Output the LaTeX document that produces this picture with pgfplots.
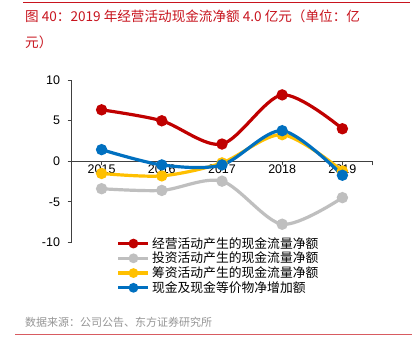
\documentclass[border=0pt]{standalone}
\usepackage{pgfplots}
\pgfplotsset{compat=1.18}
\usepackage{fontspec}
\setmainfont{Liberation Sans}
\newfontfamily\cjk{Noto Sans CJK SC}
\newfontfamily\cjkm{Noto Sans CJK SC Medium}
\definecolor{titlered}{RGB}{200,20,30}
\definecolor{cred}{RGB}{192,0,0}
\definecolor{cgray}{RGB}{191,191,191}
\definecolor{cyellow}{RGB}{255,192,0}
\definecolor{cblue}{RGB}{0,112,192}
\definecolor{srcgray}{RGB}{150,150,150}
\begin{document}
\begin{tikzpicture}
\path[use as bounding box, fill=white] (0,0) rectangle (412bp,-359bp);
\draw[titlered, line width=0.9bp] (23bp,-2.3bp) -- (410bp,-2.3bp);
\node[anchor=west, inner sep=0pt, text=titlered, font=\cjk\fontsize{13.6bp}{16bp}\selectfont] at (25bp,-16bp) {图 40：2019 年经营活动现金流净额 4.0 亿元（单位：亿};
\node[anchor=west, inner sep=0pt, text=titlered, font=\cjk\fontsize{13.6bp}{16bp}\selectfont] at (25bp,-42bp) {元）};
\node[anchor=west, inner sep=0pt, text=srcgray, font=\cjk\fontsize{11bp}{13bp}\selectfont] at (25bp,-322.5bp) {数据来源：公司公告、东方证券研究所};
\draw[titlered!70, line width=0.9bp] (15bp,-334.3bp) -- (412bp,-334.3bp);
\begin{axis}[
  at={(71.5bp,-242.5bp)}, anchor=south west,
  scale only axis, width=301bp, height=162.5bp,
  xmin=-0.5, xmax=4.5, ymin=-10, ymax=10,
  axis x line*=middle, axis y line*=left,
  axis line style={draw=black!75, line width=0.8bp, -},
  every inner x axis line/.append style={-},
  every outer y axis line/.append style={-},
  xtick={0,1,2,3,4}, xticklabels={2015,2016,2017,2018,2019},
  extra x ticks={4.5}, extra x tick labels={},
  ytick={-10,-5,0,5,10}, yticklabels={-10,-5,0,5,10},
  tick align=outside, major tick length=4bp,
  tick style={draw=black!75, line width=0.8bp},
  xticklabel style={font=\fontsize{12.5bp}{14bp}\selectfont, anchor=center, yshift=-4bp},
  yticklabel style={font=\fontsize{12.5bp}{14bp}\selectfont, xshift=-4bp},
  clip=false,
  legend style={at={(axis description cs:0.15,0.045)}, anchor=north west, draw=none, fill=none,
    font=\cjk\fontsize{12.8bp}{14bp}\selectfont, row sep=-1.6bp, inner sep=0pt,
    /tikz/every even column/.append style={column sep=3bp}},
  legend cell align=left,
  legend image code/.code={\draw[mark repeat=2,mark phase=2, mark size=3.2bp] plot coordinates {(0bp,0bp)(15bp,0bp)(30bp,0bp)};},
]
\addplot[cred, line width=3.2bp, smooth, mark=*, mark size=4bp, mark options={solid, fill=cred}] coordinates {(0,6.33) (1,4.98) (2,2.12) (3,8.17) (4,4.0)};
\addlegendentry{经营活动产生的现金流量净额}
\addplot[cgray, line width=3.2bp, smooth, mark=*, mark size=4bp, mark options={solid, fill=cgray}] coordinates {(0,-3.38) (1,-3.59) (2,-2.45) (3,-7.75) (4,-4.48)};
\addlegendentry{投资活动产生的现金流量净额}
\addplot[cyellow, line width=3.2bp, smooth, mark=*, mark size=4bp, mark options={solid, fill=cyellow}] coordinates {(0,-1.5) (1,-1.8) (2,-0.2) (3,3.27) (4,-1.2)};
\addlegendentry{筹资活动产生的现金流量净额}
\addplot[cblue, line width=3.2bp, smooth, mark=*, mark size=4bp, mark options={solid, fill=cblue}] coordinates {(0,1.43) (1,-0.45) (2,-0.45) (3,3.76) (4,-1.72)};
\addlegendentry{现金及现金等价物净增加额}
\end{axis}
\end{tikzpicture}
\end{document}
